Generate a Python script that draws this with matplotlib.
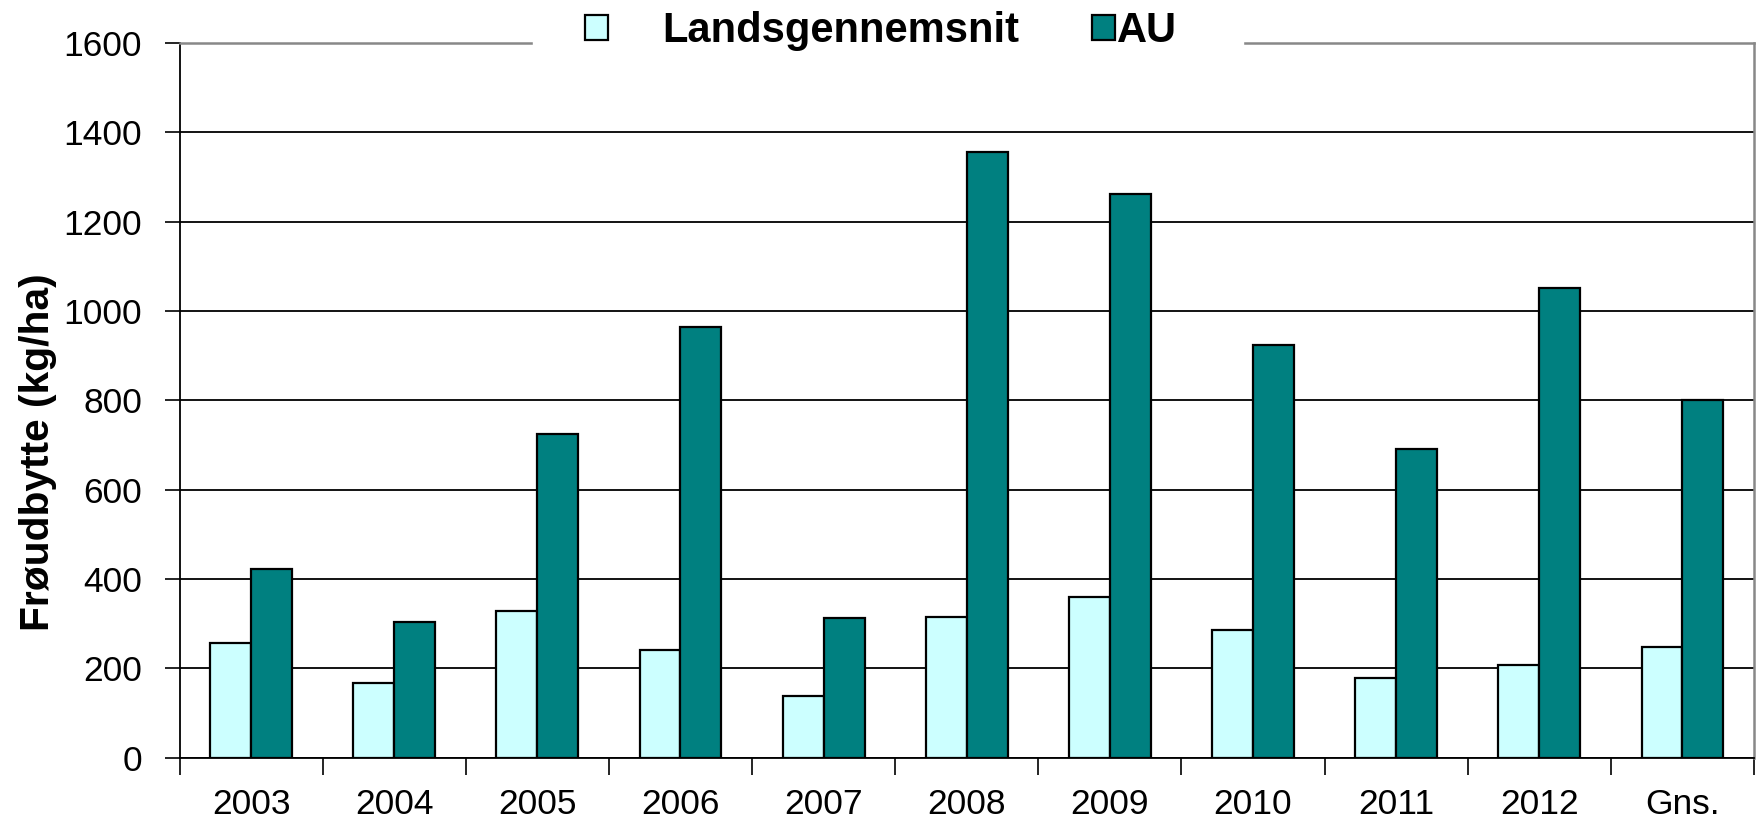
import numpy as np
import matplotlib
matplotlib.use("Agg")
import matplotlib.pyplot as plt

# data
categories = ["2003", "2004", "2005", "2006", "2007", "2008", "2009", "2010", "2011", "2012", "Gns."]
landsgennemsnit = [257, 167, 328, 242, 139, 316, 359, 287, 178, 207, 247]
au = [422, 305, 724, 963, 313, 1355, 1262, 924, 691, 1052, 801]
yticks = [0, 200, 400, 600, 800, 1000, 1200, 1400, 1600]

plt.rcParams['font.family'] = ['Liberation Sans', 'DejaVu Sans']

fig = plt.figure(figsize=(17.6, 8.22), dpi=100)
ax = fig.add_axes([0.102, 0.078, 0.8946, 0.87])

x = np.arange(len(categories))
w = 0.286
b1 = ax.bar(x - w / 2, landsgennemsnit, w, color="#CCFFFF", edgecolor="black", linewidth=1.6, zorder=3)
b2 = ax.bar(x + w / 2, au, w, color="#008080", edgecolor="black", linewidth=1.6, zorder=3)

ax.set_xlim(-0.5, len(categories) - 0.5)
ax.set_ylim(0, 1600)
ax.set_yticks(yticks)
ax.tick_params(axis='y', length=11, width=1.2, direction='out', pad=16, labelsize=25.5)
ax.set_xticks(x)
ax.set_xticklabels(categories)
ax.set_xticks(np.arange(-0.5, len(categories)), minor=True)
ax.tick_params(axis='x', which='major', length=0, pad=22, labelsize=25.5)
ax.tick_params(axis='x', which='minor', length=12, width=1.2, direction='out')

ax.set_axisbelow(True)
ax.grid(axis='y', color='black', linewidth=1.3)

for s in ['left', 'bottom']:
    ax.spines[s].set_color('black')
    ax.spines[s].set_linewidth(1.3)
for s in ['top', 'right']:
    ax.spines[s].set_color('#888888')
    ax.spines[s].set_linewidth(1.8)

ax.set_ylabel("Frøudbytte (kg/ha)", fontsize=29.3, fontweight='bold')
ax.yaxis.set_label_coords(-0.0775, 0.428)

leg1 = ax.legend([b1], ["Landsgennemsnit"], loc='center left', bbox_to_anchor=(0.2243, 1.016),
                 borderaxespad=0, borderpad=1.25, handlelength=0.55, handleheight=0.55,
                 handletextpad=1.3, fancybox=False, framealpha=1, edgecolor='white',
                 prop={'size': 30, 'weight': 'bold'})
ax.add_artist(leg1)
ax.legend([b2], ["AU"], loc='center left', bbox_to_anchor=(0.537, 1.016),
          borderaxespad=0, borderpad=1.6, handlelength=0.55, handleheight=0.55,
          handletextpad=0.05, fancybox=False, framealpha=1, edgecolor='white',
          prop={'size': 30, 'weight': 'bold'})

fig.savefig("out.png", dpi=100)
